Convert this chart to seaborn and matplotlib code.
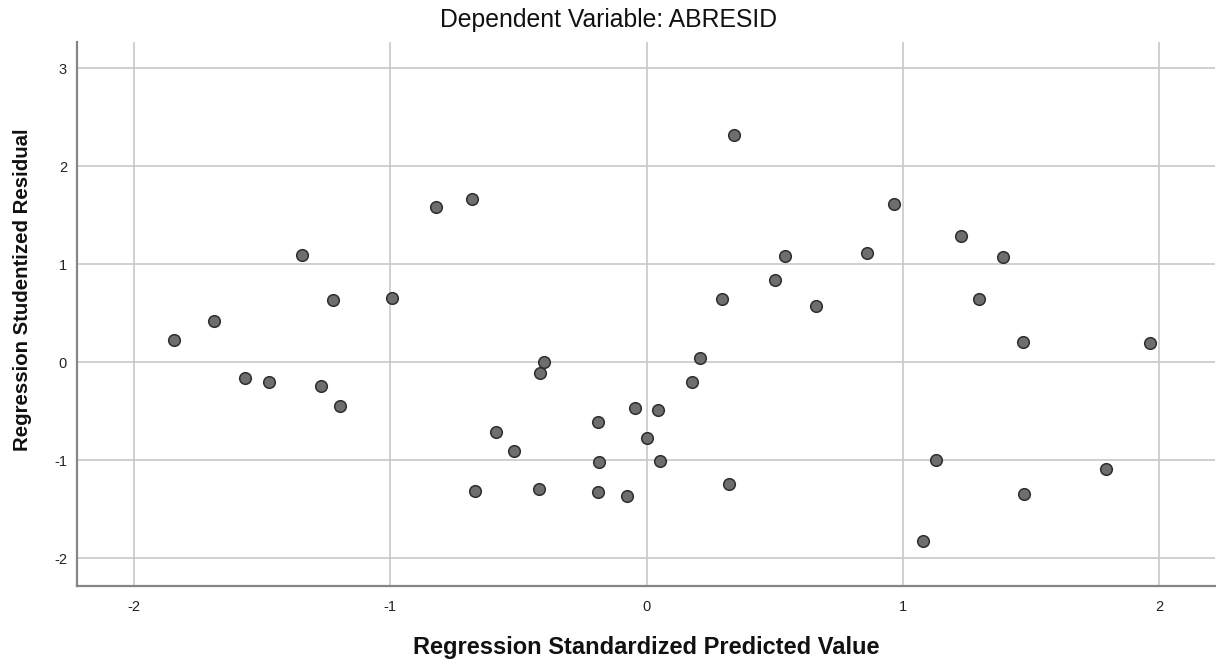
import numpy as np
import matplotlib.pyplot as plt
import pandas as pd
import seaborn as sns

# =========================
# DATA
# =========================
predicted = [
    -1.844, -1.686, -1.568, -1.474, -1.344, -1.271, -1.223, -1.195, -0.995,
    -0.823, -0.680, -0.670, -0.589, -0.519, -0.421, -0.415, -0.400, -0.190,
    -0.187, -0.190, -0.078, -0.046, 0.001, 0.043, 0.051, 0.177, 0.207,
    0.294, 0.321, 0.339, 0.502, 0.540, 0.661, 0.861, 0.965, 1.078,
    1.128, 1.226, 1.295, 1.390, 1.466, 1.471, 1.792, 1.963
]
residual = [
    0.225, 0.425, -0.164, -0.201, 1.099, -0.245, 0.636, -0.446, 0.660,
    1.583, 1.670, -1.311, -0.715, -0.906, -1.290, -0.109, 0.006, -0.610,
    -1.021, -1.321, -1.368, -0.470, -0.770, -0.490, -1.011, -0.204, 0.047,
    0.643, -1.246, 2.318, 0.837, 1.089, 0.578, 1.116, 1.619, -1.828,
    -0.998, 1.286, 0.646, 1.072, 0.210, -1.341, -1.086, 0.200
]
x_ticks = [-2, -1, 0, 1, 2]
y_ticks = [-2, -1, 0, 1, 2, 3]

df = pd.DataFrame({'pred': predicted, 'resid': residual})

# =========================
# PLOTTING
# =========================
sns.set_theme('paper')
sns.set_style('white')
plt.rcParams['font.family'] = ['Liberation Sans', 'DejaVu Sans']
plt.rcParams['axes.unicode_minus'] = False

fig = plt.figure(figsize=(12.16, 6.62), dpi=100)
ax = fig.add_axes([0.0631, 0.1153, 0.9359, 0.8217])

sns.scatterplot(
    data=df, x='pred', y='resid', ax=ax,
    s=70, color='#6e6e6e', edgecolor='#2e2e2e', linewidth=1.1,
    zorder=3
)

ax.set_xlim(-2.223, 2.216)
ax.set_ylim(-2.281, 3.273)
ax.set_xticks(x_ticks)
ax.set_yticks(y_ticks)
ax.tick_params(axis='both', length=0, labelsize=10.5, labelcolor='#222222')
ax.tick_params(axis='x', pad=10)
ax.tick_params(axis='y', pad=7)

ax.grid(True, color='#c8c8c8', linewidth=1.2)
ax.set_axisbelow(True)
for side in ['top', 'right']:
    ax.spines[side].set_visible(False)
for side in ['left', 'bottom']:
    ax.spines[side].set_color('#858585')
    ax.spines[side].set_linewidth(1.6)

ax.set_xlabel('Regression Standardized Predicted Value',
              fontsize=17, fontweight='bold', color='#111111', labelpad=16)
ax.set_ylabel('Regression Studentized Residual',
              fontsize=14.7, fontweight='bold', color='#111111')
ax.yaxis.set_label_coords(-0.0393, 0.5436)

fig.text(0.5, 1 - 20 / 662, 'Dependent Variable: ABRESID',
         ha='center', va='center', fontsize=17.8, color='#111111')

fig.savefig('out.png', dpi=100)
